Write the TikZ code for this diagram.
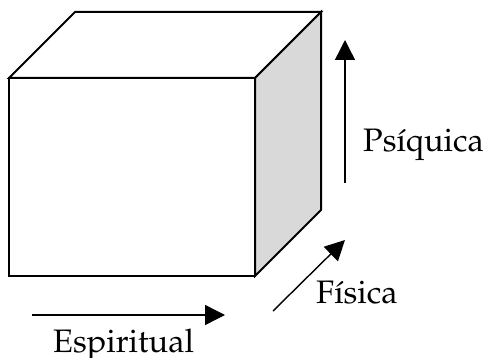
\documentclass[tikz,border=0pt]{standalone}
\usepackage[T1]{fontenc}
\usepackage{mathpazo}
\usepackage{xcolor}
\usetikzlibrary{arrows.meta,positioning}
\definecolor{sidegray}{RGB}{217,217,217}

\begin{document}
\begin{tikzpicture}[x=1pt,y=-1pt,
    edge/.style={line width=2pt,line join=miter},
    axis/.style={line width=1.4pt,-{Triangle[length=20pt,width=20pt]}},
    lab/.style={font=\fontsize{32.5}{39}\selectfont,anchor=base west,inner sep=0pt}]
    \useasboundingbox (0,0) rectangle (484,358);

    % corners of the block
    \coordinate (flt) at (9,78);
    \coordinate (frt) at (255,78);
    \coordinate (frb) at (255,276);
    \coordinate (flb) at (9,276);
    \coordinate (blt) at (75,12);
    \coordinate (brt) at (321,12);
    \coordinate (brb) at (321,210);

    % faces
    \draw[edge,fill=white] (flt) -- (frt) -- (frb) -- (flb) -- cycle;
    \draw[edge,fill=white] (flt) -- (blt) -- (brt) -- (frt) -- cycle;
    \draw[edge,fill=sidegray] (frt) -- (brt) -- (brb) -- (frb) -- cycle;

    % the three dimensions
    \coordinate (psiA) at (345,183);
    \coordinate (psiB) at (345,40);
    \coordinate (fisA) at (273,311);
    \coordinate (fisB) at (345,240);
    \coordinate (espA) at (32,315);
    \coordinate (espB) at (225,315);
    \draw[axis] (psiA) -- (psiB);
    \draw[axis] (fisA) -- (fisB);
    \draw[axis] (espA) -- (espB);

    \node[lab] (psi) at (363,152) {Ps\'{\i}quica};
    \node[lab] (fis) at (316,303) {F\'{\i}sica};
    \node[lab] (esp) at (53,352) {Espiritual};
\end{tikzpicture}
\end{document}
